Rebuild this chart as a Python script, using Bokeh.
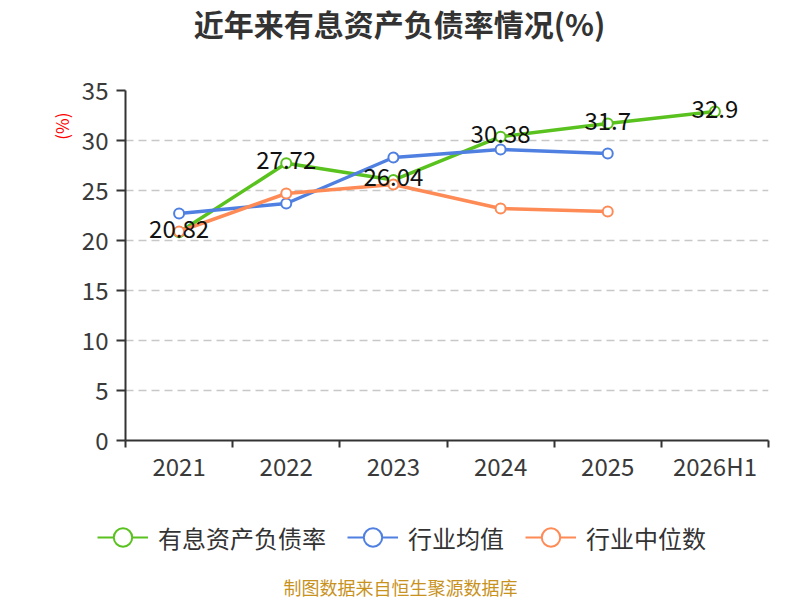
import math
from bokeh.plotting import figure
from bokeh.layouts import column
from bokeh.models import (ColumnDataSource, FixedTicker, Range1d, Legend, LegendItem, Title, Label)
from bokeh.core.properties import value
from bokeh.embed import file_html
from bokeh.resources import INLINE

# ---- data ----
categories = ["2021", "2022", "2023", "2024", "2025", "2026H1"]
rate = [20.82, 27.72, 26.04, 30.38, 31.7, 32.9]          # 有息资产负债率
industry_avg = [22.7, 23.7, 28.3, 29.1, 28.7]              # 行业均值
industry_median = [20.9, 24.7, 25.6, 23.2, 22.9]           # 行业中位数
y_ticks = [0, 5, 10, 15, 20, 25, 30, 35]

title_text = "近年来有息资产负债率情况(%)"
unit_text = "(%)"
footer_text = "制图数据来自恒生聚源数据库"
series_names = ["有息资产负债率", "行业均值", "行业中位数"]
colors = ["#5ac21f", "#4f80e1", "#fe8a56"]

FONT = "Noto Sans CJK SC"
W = 800
TOP_H = 45
BOT_H = 109

centers = [i + 0.5 for i in range(len(categories))]
bounds = [i for i in range(len(categories) + 1)]
data_sets = [rate, industry_avg, industry_median]


def blank_fig(h):
    # ranges chosen away from the series values, so the legend-only renderers stay hidden
    f = figure(width=W, height=h, output_backend="svg", toolbar_location=None,
               x_range=Range1d(100, 900), y_range=Range1d(100, 100 + h),
               x_axis_type=None, y_axis_type=None, min_border=0, frame_align=False)
    f.outline_line_color = None
    f.xgrid.grid_line_color = None
    f.ygrid.grid_line_color = None
    return f


# ---- title strip ----
top = blank_fig(TOP_H)
top.add_layout(Label(x=399, y=TOP_H - 22, x_units="screen", y_units="screen",
                     text=title_text, text_align="center", text_baseline="middle",
                     text_font=FONT, text_font_size="30px", text_font_style="bold",
                     text_color="#333333"))

# ---- main chart ----
p = figure(frame_width=643, frame_height=350, output_backend="svg", toolbar_location=None,
           x_range=Range1d(0, len(categories)), y_range=Range1d(0, 35),
           min_border_left=125, min_border_right=32, min_border_top=90 - TOP_H,
           min_border_bottom=50, frame_align=False)
p.outline_line_color = None

xa = p.xaxis[0]
xa.ticker = FixedTicker(ticks=centers, minor_ticks=bounds)
xa.major_label_overrides = {c: lab for c, lab in zip(centers, categories)}
xa.major_tick_line_color = None
xa.major_tick_out = 0
xa.major_tick_in = 0
xa.minor_tick_line_color = "#333333"
xa.minor_tick_line_width = 2
xa.minor_tick_out = 7
xa.minor_tick_in = 0
xa.axis_line_color = "#333333"
xa.axis_line_width = 2
xa.major_label_text_font = FONT
xa.major_label_text_font_size = "24px"
xa.major_label_text_color = "#3a3a3a"
xa.major_label_standoff = 0

ya = p.yaxis[0]
ya.ticker = FixedTicker(ticks=y_ticks)
ya.minor_tick_line_color = None
ya.major_tick_line_color = "#333333"
ya.major_tick_line_width = 2
ya.major_tick_out = 9
ya.major_tick_in = 0
ya.axis_line_color = "#333333"
ya.axis_line_width = 2
ya.major_label_text_font = FONT
ya.major_label_text_font_size = "24px"
ya.major_label_text_color = "#3a3a3a"
ya.major_label_standoff = 8

p.xgrid.grid_line_color = None
p.ygrid.ticker = FixedTicker(ticks=y_ticks)
p.ygrid.grid_line_color = "#c8c8c8"
p.ygrid.grid_line_width = 1.5
p.ygrid.grid_line_dash = "8 5"

for vals, col in zip(data_sets, colors):
    src = ColumnDataSource(dict(x=centers[:len(vals)], y=vals))
    p.line("x", "y", source=src, line_color=col, line_width=3.5)
    p.scatter("x", "y", source=src, size=10, marker="circle",
              fill_color="white", line_color=col, line_width=2)

lab_src = ColumnDataSource(dict(x=centers[:len(rate)], y=rate,
                                t=[f"{v:g}" for v in rate]))
p.text("x", "y", text="t", source=lab_src, text_align="center",
       text_baseline="middle", y_offset=-3, text_color="#111111",
       text_font=value(FONT), text_font_size="24px")

p.add_layout(Title(text=unit_text, align="right", offset=22, standoff=9,
                   text_font=FONT, text_font_size="17px", text_font_style="normal",
                   text_color="#ff0000"), "left")

# ---- legend + footer strip ----
bot = blank_fig(BOT_H)
items = []
for name, vals, col in zip(series_names, data_sets, colors):
    src = ColumnDataSource(dict(x=centers[:len(vals)], y=vals))
    ln = bot.line("x", "y", source=src, line_color=col, line_width=2)
    sc = bot.scatter("x", "y", source=src, marker="circle", size=10,
                     fill_color="white", line_color=col, line_width=2)
    items.append(LegendItem(label=name, renderers=[ln, sc]))

legend = Legend(items=items, location=(97, BOT_H - 47 - 23), orientation="horizontal",
                glyph_width=51, glyph_height=46, label_standoff=10, spacing=21,
                padding=0, margin=0, border_line_color=None,
                background_fill_alpha=0,
                label_text_font=FONT, label_text_font_size="24px",
                label_text_color="#333333")
bot.add_layout(legend)
bot.add_layout(Label(x=400, y=13, x_units="screen", y_units="screen",
                     text=footer_text, text_align="center", text_baseline="middle",
                     text_font=FONT, text_font_size="18px", text_color="#c8921e"))

layout = column(top, p, bot, spacing=0)
open("out.html", "w").write(file_html(layout, INLINE))
